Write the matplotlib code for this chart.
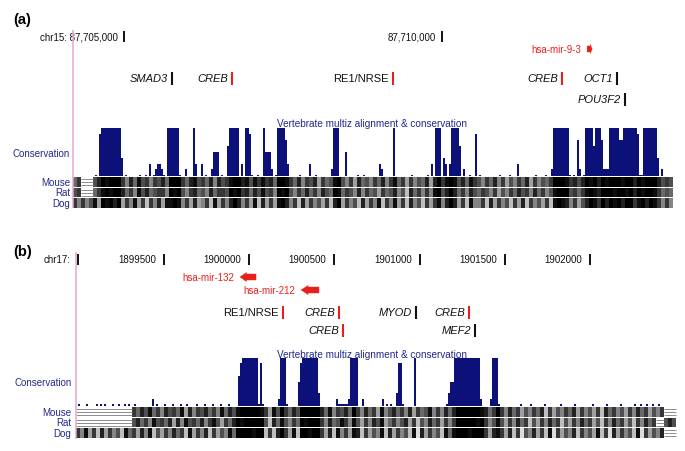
import numpy as np
import matplotlib
matplotlib.use("Agg")
import matplotlib.pyplot as plt
from matplotlib import transforms
from matplotlib.patches import Polygon

plt.rcParams['font.family'] = ['Liberation Sans', 'DejaVu Sans']

# ------------------------------------------------------------------ data (a)
a_view = [87703050, 87713821]
a_track = [87704198, 87713632]
a_ruler_pos = [87705000, 87710000]
a_ruler_lab = ['chr15: 87,705,000', '87,710,000']
a_mir_name = ['hsa-mir-9-3']
a_mir_start = [87712282]
a_mir_end = [87712362]
a_mir_strand = ['+']
a_site_name = ['SMAD3', 'CREB', 'RE1/NRSE', 'CREB', 'OCT1', 'POU3F2']
a_site_pos = [87705755, 87706698, 87709230, 87711887, 87712752, 87712877]
a_site_row = [0, 0, 0, 0, 0, 1]
a_site_red = [False, True, True, True, False, False]
a_site_italic = [True, True, False, True, True, True]

# conservation level per bin (0 = none ... 9 = maximal)
a_cons = ("0000000000" "0108999999" "9999401000" "0001001030" "1233210999"
          "9991002000" "9300301002" "5550100699" "9990309981" "0010095552"
          "0199997300" "0001000030" "0100000002" "9990005000" "0010010000"
          "0003200000" "9000000001" "0000000103" "0999043039" "9996020010"
          "0801000000" "0001000010" "0030000000" "0100001002" "9999999910"
          "1072019999" "6999722299" "9997799999" "9981199999" "9940200000")

# pairwise alignment shade per bin (0 = black ... 9 = white, '-' = gap)
a_mouse = ("53" "---" "42" "01000" "362514363425" "000" "352" "14" "3526243"
           "100" "214131" "325" "001" "35263427354" "10" "4637254635263" "1"
           "537364527" "20" "3101" "42513" "4635263746352736453" "0001" "3242"
           "010201000100201000" "2434")
a_rat = ("43" "---" "53" "10100" "253614254336" "010" "463" "25" "4625334"
         "010" "325241" "436" "010" "46352536245" "01" "5346263547354" "2"
         "648253636" "10" "4202" "53624" "5346374635243625364" "1000" "4353"
         "101200010010201001" "3545")
a_dog = ("3636417" "01020" "736173836271" "101" "637" "27" "6381736" "202"
         "637182" "737" "102" "63827364738" "20" "7364827361836" "1"
         "738264837" "31" "6202" "73816" "6382736483728364738" "1012" "6374"
         "201302010200310201" "3636")

# ------------------------------------------------------------------ data (b)
b_view = [1898540, 1902556]
b_track = [1898986, 1902503]
b_ruler_pos = [1899000, 1899500, 1900000, 1900500, 1901000, 1901500, 1902000]
b_ruler_lab = ['chr17:', '1899500', '1900000', '1900500', '1901000', '1901500', '1902000']
b_mir_name = ['hsa-mir-132', 'hsa-mir-212']
b_mir_start = [1899947, 1900305]
b_mir_end = [1900041, 1900410]
b_mir_strand = ['-', '-']
b_site_name = ['RE1/NRSE', 'CREB', 'MYOD', 'CREB', 'CREB', 'MEF2']
b_site_pos = [1900199, 1900528, 1900979, 1901290, 1900551, 1901325]
b_site_row = [0, 0, 0, 0, 1, 1]
b_site_red = [True, True, False, True, True, False]
b_site_italic = [False, True, True, True, True, True]

b_cons = ("0100010000" "1010100010" "0100101001" "0000000020" "1000100010"
          "0010010000" "1000100010" "0010001000" "0689999999" "9181000000"
          "0299910000" "0589999999" "9300000000" "2111112999" "9002000000"
          "0002010100" "3881000009" "0000000000" "0000013559" "9999999999"
          "9920000299" "9100000000" "0010000100" "0000100000" "0010000001"
          "0000000010" "0000010000" "0010000001" "0010010010" "0100000000")

b_mouse = ("--------------" "35241536243517263425361524" "1000001" "3714" "0"
           "3524" "00000" "25163425" "0" "362537164253627354163625" "20000001"
           "253" "0" "36253746352837463527364738253647362537463" "---")
b_rat = ("--------------" "42536143527261435263147352" "0100000" "4825" "1"
         "4635" "01000" "36254136" "1" "473624175364273846253736" "30000010"
         "364" "1" "473625384736253847362537483625374836253" "--" "424")
b_dog = ("36173827364815" "37261847362538173628374615" "0000100" "8382" "0"
         "3718" "00100" "37281637" "1" "283746182736481927364815" "10001000"
         "372" "1" "37283946273819374628364718392736481937462" "---")

species = ['Mouse', 'Rat', 'Dog']

for s in (a_cons, b_cons):
    assert len(s) == 300, len(s)
for s in (a_mouse, a_rat, a_dog, b_mouse, b_rat, b_dog):
    assert len(s) == 150, len(s)

CONS_LEVEL = {'0': 0.0, '1': 0.03, '2': 0.14, '3': 0.26, '4': 0.38,
              '5': 0.5, '6': 0.62, '7': 0.75, '8': 0.88, '9': 1.0}

# ------------------------------------------------------------------ style
W, H = 685, 452
NAVY = '#0b1178'
LNAVY = '#23288a'
RED = '#e8201c'
PINK = '#eaa6d2'

lay_a = dict(top=0, bottom=226, letter='(a)', letter_y=20, ruler_y=37,
             ruler_tick=(31.5, 42.5), ruler_off=-6, mir_y=[50], site_y=[79, 100],
             title_y=124, cons_label_y=154, base=177, cons_h=48,
             rows=[178, 188.5, 199], row_h=9.5, pink=(31, 209),
             label_x=70, cons_label_x=70)
lay_b = dict(top=226, bottom=452, letter='(b)', letter_y=252, ruler_y=260,
             ruler_tick=(254.5, 265.5), ruler_off=-8, mir_y=[278, 291], site_y=[313, 331],
             title_y=355, cons_label_y=383, base=406.5, cons_h=48,
             rows=[408, 418.5, 429], row_h=9.5, pink=(253, 440),
             label_x=71, cons_label_x=72)

fig = plt.figure(figsize=(W / 100, H / 100), dpi=100)
fig.patch.set_facecolor('white')


def draw_align(ax, track, s, y0, h):
    n = len(s)
    edges = np.linspace(track[0], track[1], n + 1)
    raw = np.array([0 if c == '-' else int(c) for c in s], dtype=float) / 9.0
    shade = 0.86 * raw ** 1.25
    mask = np.array([c == '-' for c in s])
    vals = np.ma.masked_array(shade, mask=mask)[None, :]
    ax.pcolormesh(edges, [y0, y0 + h], vals, cmap='gray', vmin=0, vmax=1.0,
                  shading='flat', zorder=2)
    i = 0
    while i < n:
        if s[i] == '-':
            j = i
            while j < n and s[j] == '-':
                j += 1
            for f in (0.25, 0.55, 0.85):
                ax.hlines(y0 + f * h, edges[i], edges[j], color='#8c8c8c', lw=0.7, zorder=2)
            i = j
        else:
            i += 1


def draw_panel(ax, lay, view, track, ruler_pos, ruler_lab, mir_name, mir_start,
               mir_end, mir_strand, site_name, site_pos, site_row, site_red,
               site_italic, cons, aligns):
    ax.set_xlim(view)
    ax.set_ylim(lay['bottom'], lay['top'])
    ax.axis('off')
    ppb = W / (view[1] - view[0])  # pixels per bp
    bt = transforms.blended_transform_factory(ax.transAxes, ax.transData)

    ax.text(13 / W, lay['letter_y'], lay['letter'], transform=bt, ha='left',
            va='center', fontsize=10.5, fontweight='bold')

    # ruler
    ax.vlines(ruler_pos, *lay['ruler_tick'], color='#111111', lw=1.4)
    for p, lab in zip(ruler_pos, ruler_lab):
        ax.annotate(lab, xy=(p, lay['ruler_y']), xytext=(lay['ruler_off'], 0),
                    textcoords='offset pixels', ha='right', va='center',
                    fontsize=7, color='#111111')

    # miRNAs
    for name, st, en, strand, y in zip(mir_name, mir_start, mir_end, mir_strand, lay['mir_y']):
        length = en - st
        head = min(7 / ppb, 0.4 * length)
        bh, hh = 3.0, 4.5
        if strand == '-':
            pts = [(st, y), (st + head, y - hh), (st + head, y - bh), (en, y - bh),
                   (en, y + bh), (st + head, y + bh), (st + head, y + hh)]
        else:
            pts = [(en, y), (en - head, y - hh), (en - head, y - bh), (st, y - bh),
                   (st, y + bh), (en - head, y + bh), (en - head, y + hh)]
        ax.add_patch(Polygon(pts, closed=True, facecolor=RED, edgecolor=RED, lw=0.3))
        ax.annotate(name, xy=(st, y), xytext=(-6, 0), textcoords='offset pixels',
                    ha='right', va='center', fontsize=7, color=RED)

    # transcription factor sites
    for name, p, r, red, it in zip(site_name, site_pos, site_row, site_red, site_italic):
        y = lay['site_y'][r]
        col = RED if red else '#111111'
        ax.vlines(p, y - 6.5, y + 6.5, color=col, lw=1.5)
        ax.annotate(name, xy=(p, y), xytext=(-4, 0), textcoords='offset pixels',
                    ha='right', va='center', fontsize=8, color='#111111',
                    style='italic' if it else 'normal')

    # conservation
    ax.text(372 / W, lay['title_y'], 'Vertebrate multiz alignment & conservation',
            transform=bt, ha='center', va='center', fontsize=7.2, color=LNAVY)
    ax.text(lay['cons_label_x'] / W, lay['cons_label_y'], 'Conservation', transform=bt,
            ha='right', va='center', fontsize=7, color=LNAVY)
    lev = np.array([CONS_LEVEL[c] for c in cons])
    edges = np.linspace(track[0], track[1], len(cons) + 1)
    ax.stairs(lay['base'] - lev * lay['cons_h'], edges, baseline=lay['base'],
              fill=True, color=NAVY, lw=0, zorder=2)

    # pairwise alignments
    for sp, s, y0 in zip(species, aligns, lay['rows']):
        draw_align(ax, track, s, y0, lay['row_h'])
        ax.text(lay['label_x'] / W, y0 + lay['row_h'] / 2, sp, transform=bt,
                ha='right', va='center', fontsize=7, color=LNAVY)

    # left window edge
    ax.vlines(track[0], *lay['pink'], color=PINK, lw=1.1, zorder=5)


ax_a = fig.add_axes([0, 0.5, 1, 0.5])
draw_panel(ax_a, lay_a, a_view, a_track, a_ruler_pos, a_ruler_lab, a_mir_name,
           a_mir_start, a_mir_end, a_mir_strand, a_site_name, a_site_pos,
           a_site_row, a_site_red, a_site_italic, a_cons, [a_mouse, a_rat, a_dog])

ax_b = fig.add_axes([0, 0, 1, 0.5])
draw_panel(ax_b, lay_b, b_view, b_track, b_ruler_pos, b_ruler_lab, b_mir_name,
           b_mir_start, b_mir_end, b_mir_strand, b_site_name, b_site_pos,
           b_site_row, b_site_red, b_site_italic, b_cons, [b_mouse, b_rat, b_dog])

fig.savefig('out.png', dpi=100, facecolor='white')
